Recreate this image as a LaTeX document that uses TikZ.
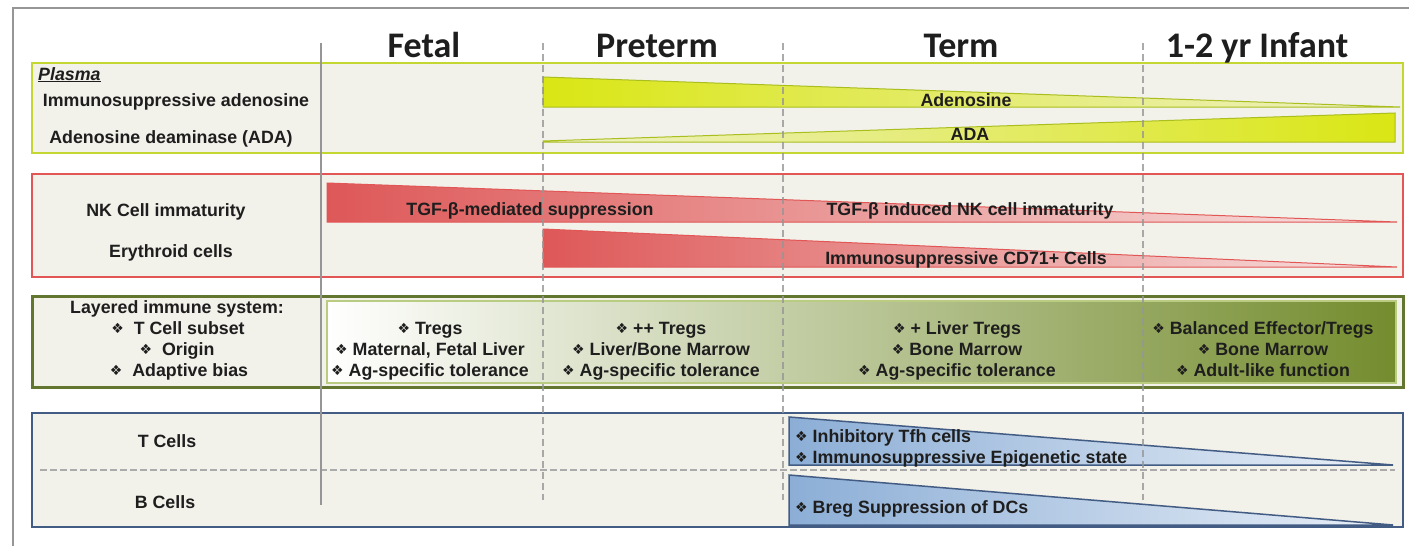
\documentclass[tikz,border=0pt]{standalone}
\usepackage{fontspec}
\setmainfont{Liberation Sans}
\newfontfamily\hdrfont{Carlito}
\newfontfamily\symfont{DejaVu Sans}
\newcommand{\dmd}{{\symfont\fontsize{14}{14}\selectfont\raisebox{0.3pt}{❖}}}
\definecolor{frameg}{RGB}{150,150,150}
\definecolor{boxbg}{RGB}{242,241,234}
\definecolor{txtc}{RGB}{30,30,30}
\definecolor{ylwb}{RGB}{196,214,48}
\definecolor{ylwedge}{RGB}{170,190,30}
\definecolor{ylwfill}{RGB}{218,230,20}
\definecolor{ylwlight}{RGB}{238,241,200}
\definecolor{redb}{RGB}{226,86,86}
\definecolor{redfill}{RGB}{222,88,88}
\definecolor{redlight}{RGB}{247,226,224}
\definecolor{grnb}{RGB}{98,118,48}
\definecolor{grninner}{RGB}{185,204,130}
\definecolor{grndark}{RGB}{116,140,46}
\definecolor{blub}{RGB}{66,92,132}
\definecolor{blufill}{RGB}{140,174,214}
\definecolor{blulight}{RGB}{234,240,248}
\begin{document}
\begin{tikzpicture}[x=1pt,y=-1pt,
  txt/.style={font=\bfseries\fontsize{17.8}{21}\selectfont, text=txtc, inner sep=0, anchor=base},
  hdr/.style={font=\hdrfont\bfseries\fontsize{36}{36}\selectfont, text=txtc, inner sep=0, anchor=base},
  rowbox/.style={line width=2.5, fill=boxbg},
  phase/.style={frameg, line width=1.3, dash pattern=on 7pt off 4pt, opacity=0.8}]
\fill[white] (0,0) rectangle (1409,546);
\useasboundingbox (0,0) rectangle (1409,546);
% outer frame
\draw[frameg, line width=2] (13,560) -- (13,8) -- (1420,8);
% row boxes
\draw[rowbox, draw=ylwb] (32,63) rectangle (1403,153);
\draw[rowbox, draw=redb] (32,174) rectangle (1403,277);
\draw[rowbox, draw=grnb, line width=3] (32,296) rectangle (1403,387);
\draw[rowbox, draw=blub] (32,413) rectangle (1403,527);
% plasma wedges
\shade[left color=ylwfill, right color=ylwlight] (543,77) -- (1400,107) -- (543,107) -- cycle;
\draw[ylwedge, line width=1] (543,77) -- (1400,107) -- (543,107) -- cycle;
\shade[left color=ylwlight, right color=ylwfill] (543,141) -- (1395,113) -- (1395,142) -- (543,142) -- cycle;
\draw[ylwedge, line width=1] (543,141) -- (1395,113) -- (1395,142) -- (543,142) -- cycle;
% red wedges
\shade[left color=redfill, right color=redlight] (327,183) -- (1397,222) -- (327,222) -- cycle;
\draw[redb, line width=1] (327,183) -- (1397,222) -- (327,222) -- cycle;
\shade[left color=redfill, right color=redlight] (543,229) -- (1397,267) -- (543,267) -- cycle;
\draw[redb, line width=1] (543,229) -- (1397,267) -- (543,267) -- cycle;
% green gradient
\shade[left color=white, right color=grndark] (327,301) rectangle (1396,383);
\draw[grninner, line width=1.5] (327,301) rectangle (1396,383);
% blue separator and wedges
\draw[frameg!80, line width=1.5, dash pattern=on 7pt off 3pt] (40,470) -- (1395,470);
\shade[left color=blufill, right color=blulight] (789,417) -- (1393,465) -- (789,465) -- cycle;
\draw[blub, line width=1.5] (789,417) -- (1393,465) -- (789,465) -- cycle;
\shade[left color=blufill, right color=blulight] (789,475) -- (1393,525) -- (789,525) -- cycle;
\draw[blub, line width=1.5] (789,475) -- (1393,525) -- (789,525) -- cycle;
% phase lines
\draw[frameg, line width=2.5] (321,43) -- (321,505);
\draw[phase] (543,43) -- (543,500);
\draw[phase] (783,43) -- (783,500);
\draw[phase] (1143,43) -- (1143,500);
% headers
\node[hdr] (hFetal) at (424,57) {Fetal};
\node[hdr] (hPre) at (657,57) {Preterm};
\node[hdr] (hTerm) at (961,57) {Term};
\node[hdr] (hInf) at (1257,57) {1-2 yr Infant};
% plasma texts
\node[txt, anchor=base west, font=\bfseries\itshape\fontsize{17.8}{21}\selectfont] (plasma) at (38,80) {\underline{Plasma}};
\node[txt] (adoLbl) at (176,106) {Immunosuppressive adenosine};
\node[txt] (adaLbl) at (171,143) {Adenosine deaminase (ADA)};
\node[txt] (adoW) at (966,106) {Adenosine};
\node[txt] (adaW) at (970,140) {ADA};
% red texts
\node[txt] (nkLbl) at (166,216) {NK Cell immaturity};
\node[txt] (eryLbl) at (171,257) {Erythroid cells};
\node[txt] (tgfA) at (530,215) {TGF-β-mediated suppression};
\node[txt] (tgfB) at (970,215) {TGF-β induced NK cell immaturity};
\node[txt] (cd71) at (966,264) {Immunosuppressive CD71+ Cells};
% layered texts
\node[txt] (lay0) at (177,313) {Layered immune system:};
\node[txt] (lay1) at (178,334) {\dmd\ \ T Cell subset};
\node[txt] (lay2) at (177,355) {\dmd\ \ Origin};
\node[txt] (lay3) at (179,376) {\dmd\ \ Adaptive bias};
\node[txt] (fe1) at (430,334) {\dmd\ Tregs};
\node[txt] (fe2) at (430,355) {\dmd\ Maternal, Fetal Liver};
\node[txt] (fe3) at (430,376) {\dmd\ Ag-specific tolerance};
\node[txt] (pr1) at (661,334) {\dmd\ ++ Tregs};
\node[txt] (pr2) at (661,355) {\dmd\ Liver/Bone Marrow};
\node[txt] (pr3) at (661,376) {\dmd\ Ag-specific tolerance};
\node[txt] (te1) at (957,334) {\dmd\ + Liver Tregs};
\node[txt] (te2) at (957,355) {\dmd\ Bone Marrow};
\node[txt] (te3) at (957,376) {\dmd\ Ag-specific tolerance};
\node[txt] (in1) at (1263,334) {\dmd\ Balanced Effector/Tregs};
\node[txt] (in2) at (1263,355) {\dmd\ Bone Marrow};
\node[txt] (in3) at (1263,376) {\dmd\ Adult-like function};
% blue texts
\node[txt] (tLbl) at (167,447) {T Cells};
\node[txt] (bLbl) at (165,508) {B Cells};
\node[txt, anchor=base west] (tfh) at (795,442) {\dmd\ Inhibitory Tfh cells};
\node[txt, anchor=base west] (epi) at (795,463) {\dmd\ Immunosuppressive Epigenetic state};
\node[txt, anchor=base west] (breg) at (795,513) {\dmd\ Breg Suppression of DCs};
\end{tikzpicture}
\end{document}
